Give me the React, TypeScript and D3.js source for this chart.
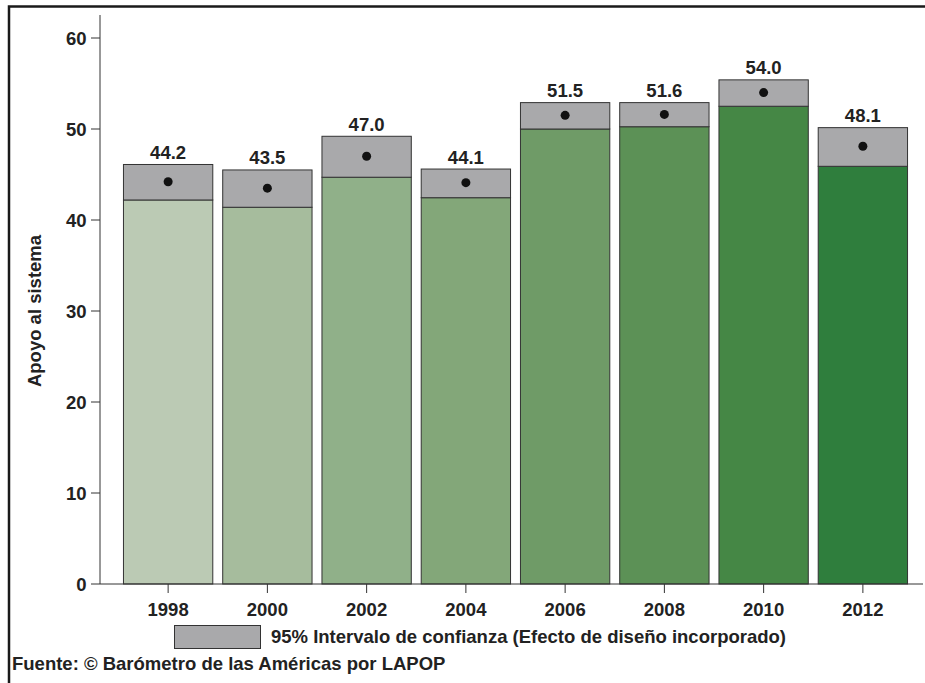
import React from "react";
import * as d3 from "d3";

const years = ["1998", "2000", "2002", "2004", "2006", "2008", "2010", "2012"];
const means = [44.2, 43.5, 47.0, 44.1, 51.5, 51.6, 54.0, 48.1];
const lowers = [42.2, 41.4, 44.7, 42.45, 50.0, 50.25, 52.5, 45.9];
const uppers = [46.1, 45.5, 49.2, 45.6, 52.9, 52.9, 55.4, 50.15];
const fills = ["#bbcab4", "#a6bc9d", "#90b089", "#83a779", "#6f9b67", "#5c9156", "#458745", "#2f7e3d"];
const yTicks = [0, 10, 20, 30, 40, 50, 60];

const W = 925;
const H = 683;
const FONT = "'Liberation Sans', Arial, Helvetica, sans-serif";
const FS = 18.5;

export default function App() {
  const y = d3.scaleLinear().domain([0, 60]).range([584, 38]);
  const x = d3.scaleBand().domain(years).range([118.5, 912.5]).paddingInner(0.1).paddingOuter(0.05);
  const bw = x.bandwidth();
  return (
    <svg width={W} height={H} style={{ position: "absolute", left: 0, top: 0, background: "#fff" }} fontFamily={FONT}>
      <rect x={9} y={6.5} width={W + 20} height={H + 20} fill="none" stroke="#1a1a1a" strokeWidth={2.5} />
      {/* y axis */}
      <line x1={100} x2={100} y1={15} y2={584} stroke="#333" strokeWidth={1} />
      {yTicks.map((t) => (
        <g key={t}>
          <line x1={91} x2={100} y1={y(t)} y2={y(t)} stroke="#333" />
          <text x={86.5} y={y(t)} dy="0.36em" textAnchor="end" fontSize={FS} fontWeight="bold" fill="#222">
            {t}
          </text>
        </g>
      ))}
      <text
        transform={`translate(41,${(584 + 38) / 2}) rotate(-90)`}
        textAnchor="middle"
        fontSize={FS}
        fontWeight="bold"
        fill="#222"
      >
        Apoyo al sistema
      </text>
      {/* bars */}
      {years.map((yr, i) => {
        const x0 = x(yr)!;
        return (
          <g key={yr}>
            <rect x={x0} y={y(lowers[i])} width={bw} height={y(0) - y(lowers[i])} fill={fills[i]} stroke="#333" strokeWidth={1} />
            <rect x={x0} y={y(uppers[i])} width={bw} height={y(lowers[i]) - y(uppers[i])} fill="#a9a9ab" stroke="#333" strokeWidth={1} />
            <circle cx={x0 + bw / 2} cy={y(means[i])} r={4.5} fill="#111" />
            <text x={x0 + bw / 2} y={y(uppers[i]) - 5.5} textAnchor="middle" fontSize={FS} fontWeight="bold" fill="#222">
              {means[i].toFixed(1)}
            </text>
            <line x1={x0 + bw / 2} x2={x0 + bw / 2} y1={584} y2={593} stroke="#333" />
            <text x={x0 + bw / 2} y={616} textAnchor="middle" fontSize={FS} fontWeight="bold" fill="#222">
              {yr}
            </text>
          </g>
        );
      })}
      {/* x axis */}
      <line x1={100} x2={923} y1={584} y2={584} stroke="#333" strokeWidth={1} />
      {/* legend */}
      <rect x={174.5} y={625.5} width={86} height={23} fill="#a9a9ab" stroke="#333" strokeWidth={1} />
      <text x={271} y={643} fontSize={FS} fontWeight="bold" fill="#222">
        95% Intervalo de confianza (Efecto de diseño incorporado)
      </text>
      <text x={12} y={670} fontSize={FS} fontWeight="bold" fill="#222">
        Fuente: © Barómetro de las Américas por LAPOP
      </text>
    </svg>
  );
}
